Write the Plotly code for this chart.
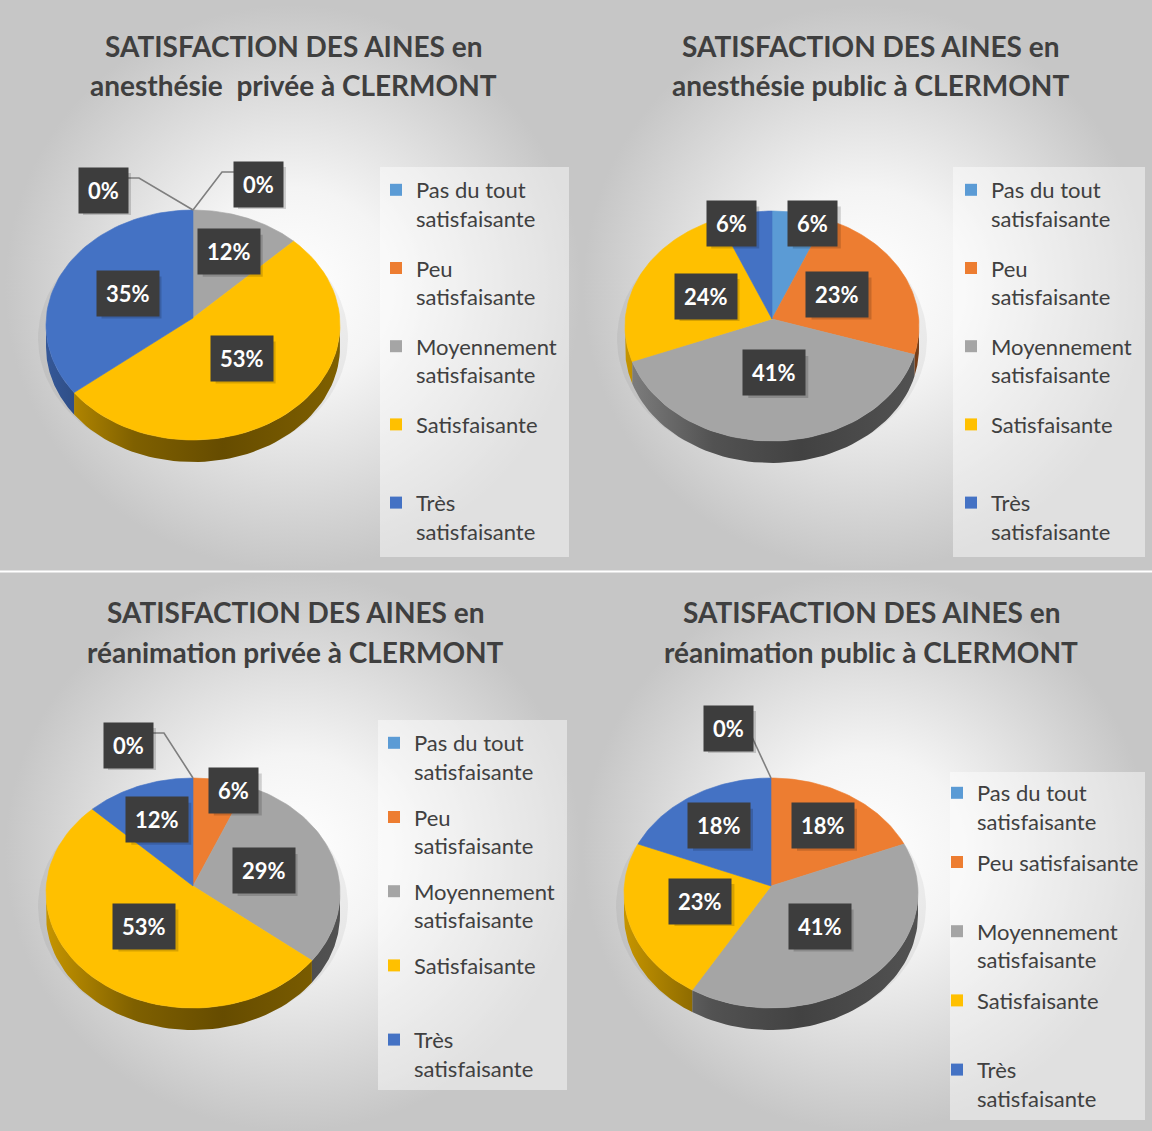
import numpy as np
import plotly.graph_objects as go

# ---------------- DATA ----------------
categories = ["Pas du tout satisfaisante", "Peu satisfaisante",
              "Moyennement satisfaisante", "Satisfaisante", "Très satisfaisante"]
legend_labels = ["Pas du tout<br>satisfaisante", "Peu<br>satisfaisante",
                 "Moyennement<br>satisfaisante", "Satisfaisante<br>\u00a0",
                 "Très<br>satisfaisante"]
legend_labels_p4 = ["Pas du tout<br>satisfaisante", "Peu satisfaisante<br>\u00a0",
                    "Moyennement<br>satisfaisante", "Satisfaisante<br>\u00a0",
                    "Très<br>satisfaisante"]

title_p1 = ["SATISFACTION DES AINES en", "anesthésie\u00a0 privée à CLERMONT"]
title_p2 = ["SATISFACTION DES AINES en", "anesthésie public à CLERMONT"]
title_p3 = ["SATISFACTION DES AINES en", "réanimation privée à CLERMONT"]
title_p4 = ["SATISFACTION DES AINES en", "réanimation public à CLERMONT"]

anesth_privee = [0, 0, 12, 53, 35]
anesth_public = [6, 23, 41, 24, 6]
reanim_privee = [0, 6, 29, 53, 12]
reanim_public = [0, 18, 41, 23, 18]

# ---------------- STYLE ----------------
W, H = 1152, 1131
FONT = "Lato"
colors = ["#5B9BD5", "#ED7D31", "#A5A5A5", "#FFC000", "#4472C4"]
RX, RY, DEPTH = 147, 115, 22
VTX = -7          # vertex sits slightly above the ellipse centre (perspective)
NUDGE = 16        # horizontal nudge for labels of thin slices
PAD = 9

panels = [
    dict(values=anesth_privee, title=title_p1, labels=legend_labels,
         rect=(5, 5, 581, 570), cx=193, cy=325, tx=293, ty=(46, 85),
         lbox=(380, 167, 569, 557), lpos=(376, 169), gap=18,
         zero_off=[(-90, -20), (65, -26)]),
    dict(values=anesth_public, title=title_p2, labels=legend_labels,
         rect=(583, 5, 1150, 570), cx=772, cy=326, tx=870, ty=(46, 85),
         lbox=(953, 167, 1145, 557), lpos=(951, 169), gap=18, zero_off=[]),
    dict(values=reanim_privee, title=title_p3, labels=legend_labels,
         rect=(5, 573, 581, 1131), cx=193, cy=893, tx=295, ty=(612, 652),
         lbox=(378, 720, 567, 1090), lpos=(374, 722), gap=14,
         zero_off=[(-65, -33)]),
    dict(values=reanim_public, title=title_p4, labels=legend_labels_p4,
         rect=(583, 573, 1150, 1131), cx=771, cy=893, tx=871, ty=(612, 652),
         lbox=(950, 772, 1145, 1120), lpos=(937, 772), gap=9,
         zero_off=[(-43, -50)]),
]


def shade(hexc, f):
    h = hexc.lstrip("#")
    r, g, b = (int(h[i:i + 2], 16) for i in (0, 2, 4))
    return f"rgb({int(r * f)},{int(g * f)},{int(b * f)})"


def arc(cx, cy, t0, t1, n=60):
    t = np.deg2rad(np.linspace(t0, t1, max(n, 3)))
    return cx + RX * np.sin(t), cy - RY * np.cos(t)


fig = go.Figure()
annotations = []
shapes = []

for k, p in enumerate(panels):
    lg = "legend" if k == 0 else f"legend{k + 1}"
    x0, y0, x1, y1 = p["rect"]
    # panel background with radial gradient
    fig.add_trace(go.Scatter(
        x=[x0, x1, x1, x0, x0], y=[y0, y0, y1, y1, y0], mode="lines",
        fill="toself", line=dict(width=0),
        fillgradient=dict(type="radial",
                          colorscale=[[0, "#ffffff"], [0.35, "#f4f4f4"], [1, "#c6c6c6"]]),
        showlegend=False, hoverinfo="skip"))

    cx, cy = p["cx"], p["cy"]
    vy = cy + VTX
    vals = np.array(p["values"], dtype=float)
    total = vals.sum()
    ends = np.cumsum(vals) / total * 360.0
    starts = ends - vals / total * 360.0

    # soft shadow under the pie
    ts = np.deg2rad(np.linspace(0, 360, 120))
    fig.add_trace(go.Scatter(
        x=cx + (RX + 8) * np.sin(ts), y=cy + DEPTH * 0.6 - (RY + 8) * np.cos(ts),
        mode="lines", fill="toself", line=dict(width=0),
        fillcolor="rgba(0,0,0,0.05)", showlegend=False, hoverinfo="skip"))

    # side walls (front half only)
    for i, v in enumerate(vals):
        if v <= 0:
            continue
        lo, hi = max(starts[i], 90.0), min(ends[i], 270.0)
        if hi <= lo:
            continue
        ax_, ay_ = arc(cx, cy, lo, hi)
        xs = np.concatenate([ax_, ax_[::-1], ax_[:1]])
        ys = np.concatenate([ay_, ay_[::-1] + DEPTH, ay_[:1]])
        c = colors[i]
        fig.add_trace(go.Scatter(
            x=xs, y=ys, mode="lines", fill="toself", line=dict(width=0),
            fillgradient=dict(type="horizontal", start=cx - RX, stop=cx + RX,
                              colorscale=[[0, shade(c, 0.78)], [0.3, shade(c, 0.5)],
                                          [0.6, shade(c, 0.4)], [1, shade(c, 0.5)]]),
            showlegend=False, hoverinfo="skip"))

    # top faces
    for i, v in enumerate(vals):
        if v <= 0:
            continue
        ax_, ay_ = arc(cx, cy, starts[i], ends[i])
        fig.add_trace(go.Scatter(
            x=np.concatenate([[cx], ax_, [cx]]), y=np.concatenate([[vy], ay_, [vy]]),
            mode="lines", fill="toself", line=dict(width=0.6, color=colors[i]),
            fillcolor=colors[i], showlegend=False, hoverinfo="skip",
            name=categories[i]))

    # data labels
    zi = 0
    for i, v in enumerate(vals):
        txt = f"{int(round(v / total * 100))}%"
        bw, bh = 12 * len(txt) + 24, 42
        if v <= 0:
            px, py = arc(cx, cy, starts[i], starts[i], 3)
            px, py = px[0], py[0]
            dx, dy = p["zero_off"][zi]
            zi += 1
            lx, ly = px + dx, py + dy
            hw = bw / 2
            sgn = 1 if dx < 0 else -1
            if abs(dx) > abs(dy):
                lxs = [px, lx + sgn * (hw + 12), lx + sgn * hw]
                lys = [py, ly - 12, ly - 12]
            else:
                lxs = [px, lx + sgn * hw]
                lys = [py, ly + 9]
            fig.add_trace(go.Scatter(
                x=lxs, y=lys, mode="lines",
                line=dict(color="#7f7f7f", width=1.6),
                showlegend=False, hoverinfo="skip"))
        else:
            midd = (starts[i] + ends[i]) / 2
            mid = np.deg2rad(midd)
            pct = v / total * 100
            r = 0.5 if pct >= 20 else (0.66 if pct >= 10 else 0.9)
            lx, ly = cx + r * RX * np.sin(mid), vy - r * (RY + VTX) * np.cos(mid)
            if pct < 10:
                lx += NUDGE * np.sign(np.sin(mid))
        # soft drop shadow behind the label box
        shapes.append(dict(type="rect", xref="x", yref="y",
                           x0=lx - bw / 2 + 4, x1=lx + bw / 2 + 4,
                           y0=ly - bh / 2 + 4, y1=ly + bh / 2 + 4,
                           line=dict(width=0), fillcolor="rgba(0,0,0,0.16)",
                           layer="above"))
        annotations.append(dict(
            x=lx, y=ly, xref="x", yref="y", text=txt, showarrow=False,
            font=dict(family=FONT, size=22, color="white", weight="bold"),
            bgcolor="#3d3d3d", borderpad=PAD))

    # titles
    for line, yy in zip(p["title"], p["ty"]):
        annotations.append(dict(
            x=p["tx"], y=yy, xref="x", yref="y", text=line, showarrow=False,
            font=dict(family=FONT, size=28, color="#3f3f3f", weight="bold")))

    # legend box
    bx0, by0, bx1, by1 = p["lbox"]
    shapes.append(dict(type="rect", xref="x", yref="y", x0=bx0, y0=by0, x1=bx1, y1=by1,
                       line=dict(width=0), fillcolor="rgba(255,255,255,0.45)",
                       layer="above"))

    # legend entries
    for i, lab in enumerate(p["labels"]):
        fig.add_trace(go.Scatter(
            x=[None], y=[None], mode="markers",
            marker=dict(symbol="square", size=12, color=colors[i]),
            name=lab, legend=lg, legendgroup=f"p{k}_{i}", showlegend=True))

layout_legends = {}
for k, p in enumerate(panels):
    lg = "legend" if k == 0 else f"legend{k + 1}"
    lx, ly = p["lpos"]
    layout_legends[lg] = dict(
        x=lx / W, y=1 - ly / H, xanchor="left", yanchor="top",
        bgcolor="rgba(0,0,0,0)", font=dict(family=FONT, size=22, color="#404040"),
        tracegroupgap=p["gap"], valign="top", itemwidth=30, traceorder="grouped")

fig.update_layout(
    width=W, height=H, margin=dict(l=0, r=0, t=0, b=0),
    paper_bgcolor="#c6c6c6", plot_bgcolor="rgba(0,0,0,0)",
    xaxis=dict(range=[0, W], visible=False, fixedrange=True),
    yaxis=dict(range=[H, 0], visible=False, fixedrange=True),
    annotations=annotations, shapes=shapes + [
        dict(type="line", xref="x", yref="y", x0=0, x1=W, y0=571.5, y1=571.5,
             line=dict(color="white", width=2), layer="above")],
    hovermode=False, showlegend=True,
    **layout_legends)

fig.write_html("out.html", config={"displayModeBar": False},
               post_script="document.body.style.margin='0px';"
                           "document.body.style.background='#c6c6c6';")
